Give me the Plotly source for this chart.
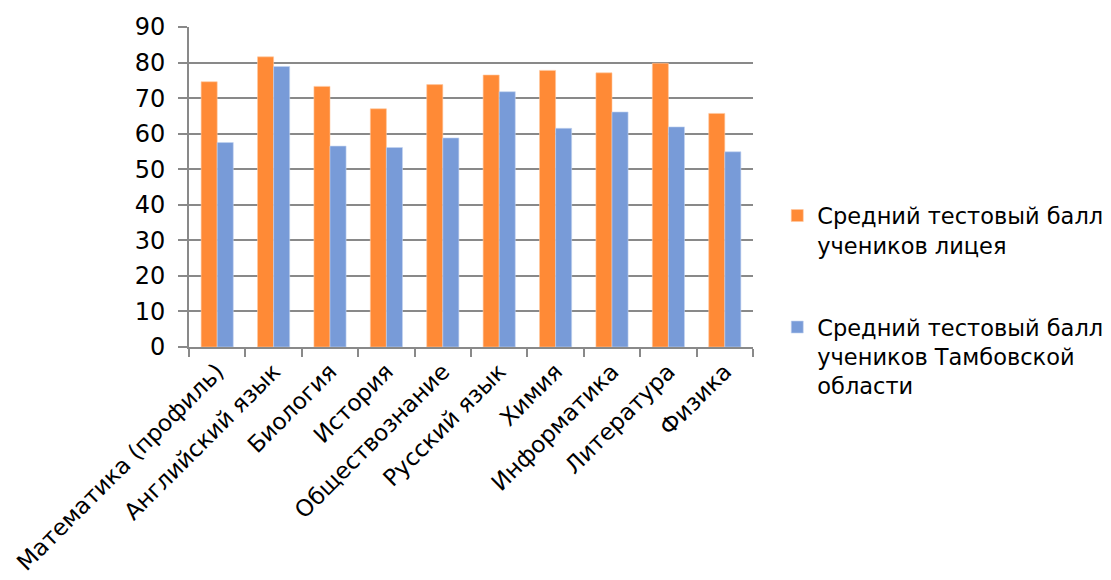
import plotly.graph_objects as go

categories = ["Математика (профиль)", "Английский язык", "Биология", "История",
              "Обществознание", "Русский язык", "Химия", "Информатика",
              "Литература", "Физика"]
lyceum = [74.6, 81.6, 73.3, 67.0, 73.8, 76.5, 77.8, 77.1, 79.8, 65.7]
region = [57.5, 78.9, 56.5, 56.1, 58.8, 71.8, 61.5, 66.1, 61.9, 54.9]
series_names = ["Средний тестовый балл<br>учеников лицея",
                "Средний тестовый балл<br>учеников Тамбовской<br>области"]
y_ticks = [0, 10, 20, 30, 40, 50, 60, 70, 80, 90]

FONT = "DejaVu Sans"
GRID = "#898989"

fig = go.Figure()
fig.add_trace(go.Bar(x=categories, y=lyceum, name=series_names[0],
                     marker=dict(color="#FF8A36", line=dict(color="#FFC8A0", width=0.6)),
                     legendgroup="a"))
fig.add_trace(go.Bar(x=categories, y=region, name=series_names[1],
                     marker=dict(color="#789BD8", line=dict(color="#C3D3F0", width=0.6)),
                     legendgroup="b"))

fig.update_layout(
    width=1103, height=572,
    margin=dict(l=181, r=358, t=19, b=233, autoexpand=False),
    paper_bgcolor="white", plot_bgcolor="white",
    barmode="group", bargap=0.43, bargroupgap=0,
    font=dict(family=FONT, size=22, color="black"),
    showlegend=True,
    legend=dict(x=1.043, y=0.144, xanchor="left", yanchor="middle",
                valign="top", tracegroupgap=50,
                font=dict(family=FONT, size=22.5, color="black"),
                bgcolor="rgba(0,0,0,0)"),
)
fig.update_xaxes(
    type="category", tickangle=-45, showgrid=False,
    showline=True, linecolor=GRID, linewidth=2,
    ticks="outside", tickson="boundaries", ticklen=8, tickwidth=2, tickcolor=GRID,
    tickfont=dict(family=FONT, size=23, color="black"),
)
fig.update_yaxes(
    range=[0, 90], tickvals=y_ticks, showgrid=True, gridcolor=GRID, gridwidth=2,
    showline=True, linecolor=GRID, linewidth=2, zeroline=False,
    ticks="outside", ticklen=9, tickwidth=2, tickcolor=GRID, ticklabelstandoff=8,
    tickfont=dict(family=FONT, size=24, color="black"),
)

fig.write_html("out.html")
